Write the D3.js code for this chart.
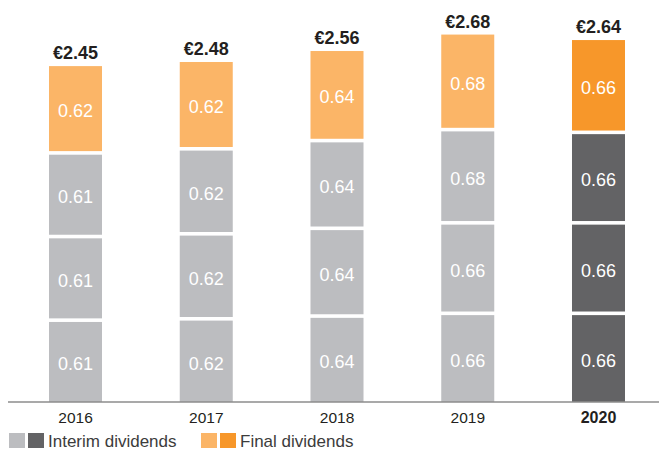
<!DOCTYPE html>
<html>
<head>
<meta charset="utf-8">
<script src="https://cdn.jsdelivr.net/npm/d3@7"></script>
<style>
  html, body { margin: 0; padding: 0; background: #fff; }
  svg { display: block; font-family: "Liberation Sans", Arial, Helvetica, sans-serif; }
</style>
</head>
<body>
<svg id="chart" width="659" height="450"></svg>
<script>
// Dividend per share, by year: three interim payments plus a final payment
const years = ["2016", "2017", "2018", "2019", "2020"];
const interim1 = [0.61, 0.62, 0.64, 0.66, 0.66];
const interim2 = [0.61, 0.62, 0.64, 0.66, 0.66];
const interim3 = [0.61, 0.62, 0.64, 0.68, 0.66];
const finalDividends = [0.62, 0.62, 0.64, 0.68, 0.66];
const currentYear = "2020";
const legendLabels = ["Interim dividends", "Final dividends"];

const colors = {
  interim: "#bcbdc0",
  interimCurrent: "#636365",
  final: "#fbb567",
  finalCurrent: "#f7972a"
};

const svg = d3.select("#chart");
const baseY = 402;
const gap = 3.6;

const x = d3.scaleBand()
  .domain(years)
  .range([49, 625])
  .paddingInner(0.5946)
  .paddingOuter(0);

const y = d3.scaleLinear()
  .domain([0, 2.9])
  .range([baseY, baseY - 2.9 * 137.1]);

// Build stacked segments per year
const rows = years.map((yr, i) => {
  const vals = [interim1[i], interim2[i], interim3[i], finalDividends[i]];
  let cum = 0;
  const segs = vals.map((v, j) => {
    const s = { year: yr, value: v, start: cum, end: cum + v, kind: j < 3 ? "interim" : "final", top: j === 3 };
    cum += v;
    return s;
  });
  return { year: yr, total: cum, segs };
});

const segColor = s => {
  const cur = s.year === currentYear;
  if (s.kind === "interim") return cur ? colors.interimCurrent : colors.interim;
  return cur ? colors.finalCurrent : colors.final;
};

const segs = rows.flatMap(r => r.segs);
const segTop = s => y(s.end) + (s.top ? 0 : gap);

svg.append("g").selectAll("rect")
  .data(segs)
  .join("rect")
  .attr("x", s => x(s.year))
  .attr("width", x.bandwidth())
  .attr("y", segTop)
  .attr("height", s => y(s.start) - segTop(s))
  .attr("fill", segColor);

// Segment value labels
svg.append("g").selectAll("text")
  .data(segs)
  .join("text")
  .attr("x", s => x(s.year) + x.bandwidth() / 2)
  .attr("y", s => (segTop(s) + y(s.start)) / 2 + 8.5)
  .attr("text-anchor", "middle")
  .attr("fill", "#ffffff")
  .attr("font-size", 18)
  .text(s => s.value.toFixed(2));

// Totals above bars
svg.append("g").selectAll("text")
  .data(rows)
  .join("text")
  .attr("x", r => x(r.year) + x.bandwidth() / 2)
  .attr("y", r => y(r.total) - 7)
  .attr("text-anchor", "middle")
  .attr("fill", "#231f20")
  .attr("font-size", 18)
  .attr("font-weight", "bold")
  .text(r => "€" + r.total.toFixed(2));

// Baseline axis
const axis = d3.axisBottom(x).tickSize(0).tickPadding(12);
const axisG = svg.append("g")
  .attr("transform", `translate(0,${baseY})`)
  .call(axis);
axisG.select(".domain")
  .attr("d", "M8,0H659")
  .attr("stroke", "#8c8c8c")
  .attr("stroke-width", 1.4);
axisG.selectAll(".tick text")
  .attr("font-family", "'Liberation Sans', Arial, sans-serif")
  .attr("font-size", d => d === currentYear ? 16 : 15.5)
  .attr("font-weight", d => d === currentYear ? "bold" : "normal")
  .attr("fill", "#231f20")
  .attr("dy", null)
  .attr("y", 20.5);

// Legend
const legend = svg.append("g");
const legendItems = [
  { label: legendLabels[0], colors: [colors.interim, colors.interimCurrent], x: 9 },
  { label: legendLabels[1], colors: [colors.final, colors.finalCurrent], x: 201 }
];
legendItems.forEach(item => {
  item.colors.forEach((c, k) => {
    legend.append("rect")
      .attr("x", item.x + k * 19)
      .attr("y", 433)
      .attr("width", 16)
      .attr("height", 15)
      .attr("fill", c);
  });
  legend.append("text")
    .attr("x", item.x + 39)
    .attr("y", 447)
    .attr("font-size", 17)
    .attr("fill", "#3c3c3c")
    .text(item.label);
});
</script>
</body>
</html>
